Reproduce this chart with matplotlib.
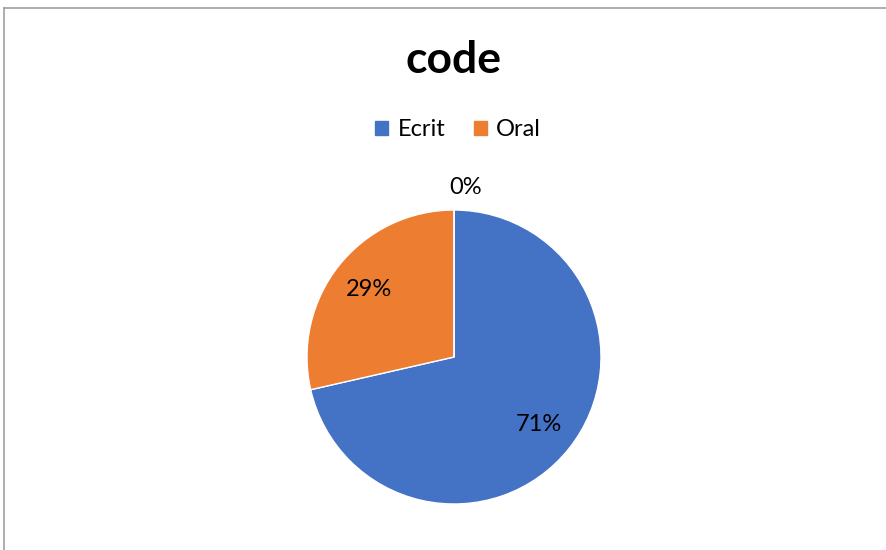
import matplotlib.pyplot as plt
from matplotlib.patches import Patch
from matplotlib.lines import Line2D
import numpy as np

# Dati
categorie = ["Ecrit", "Oral", ""]
valori = [5, 2, 0]
colori = ["#4472C4", "#ED7D31", "#A5A5A5"]

plt.rcParams['font.family'] = ['Lato', 'DejaVu Sans']

fig = plt.figure(figsize=(8.87, 5.5), dpi=100)

# bordo del grafico (solo alto e sinistra visibili)
fig.add_artist(Line2D([4 / 887, 1], [1 - 8 / 550, 1 - 8 / 550], color="#A0A0A0", lw=1.2))
fig.add_artist(Line2D([4.5 / 887, 4.5 / 887], [0, 1 - 8 / 550], color="#A0A0A0", lw=1.2))

ax = fig.add_axes([307 / 887, 46 / 550, 294 / 887, 294 / 550])
wedges, testi, pct = ax.pie(valori, colors=colori, startangle=90, counterclock=False,
                            autopct=lambda p: f"{p:.0f}%", pctdistance=0.74,
                            wedgeprops=dict(edgecolor="white", linewidth=1),
                            textprops=dict(fontsize=17, color="black"))
ax.set_xlim(-1, 1)
ax.set_ylim(-1, 1)

# le fette a zero: etichetta fuori dalla torta
for w, t, v in zip(wedges, pct, valori):
    if v == 0:
        ang = np.deg2rad((w.theta1 + w.theta2) / 2)
        t.set_position((1.15 * np.cos(ang) + 0.08, 1.15 * np.sin(ang)))

fig.text(454 / 887, 1 - 60 / 550, "code", ha="center", va="center",
         fontsize=32, fontweight="bold")

handles = [Patch(color=colori[i], label=categorie[i]) for i in range(2)]
fig.legend(handles=handles, loc="center", bbox_to_anchor=(458 / 887, 1 - 130 / 550),
           ncol=2, frameon=False, fontsize=17, handlelength=0.55, handleheight=0.55,
           handletextpad=0.4, columnspacing=1.2)

fig.savefig("out.png", dpi=100)
